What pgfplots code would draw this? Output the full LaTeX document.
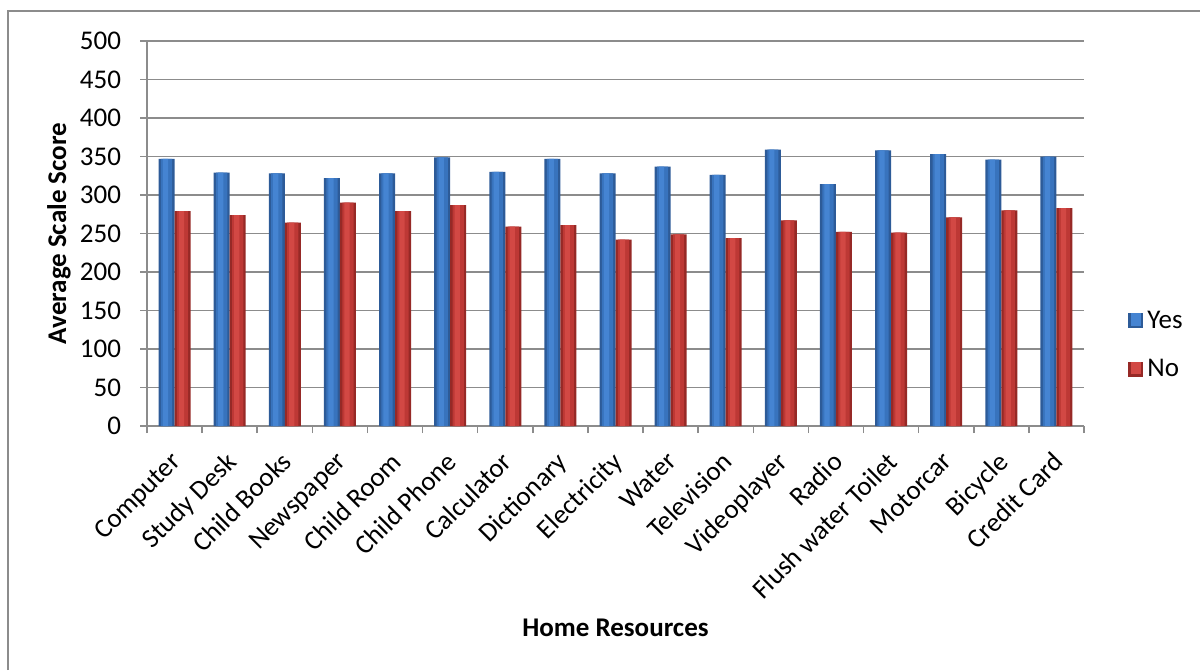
\documentclass[border=0pt]{standalone}
\usepackage{pgfplots}
\pgfplotsset{compat=1.18}
\usepackage{pgfplotstable}
\usepackage{fontspec}
\setmainfont{Carlito}
\definecolor{blueedge}{HTML}{2D5B98}
\definecolor{bluemid}{HTML}{3873BD}
\definecolor{bluelight}{HTML}{4584D2}
\definecolor{rededge}{HTML}{962926}
\definecolor{redmid}{HTML}{BD3835}
\definecolor{redlight}{HTML}{D24844}
\definecolor{gridgray}{HTML}{8C8C8C}
\pgfplotstableread{
x yes no
0 347 279
1 329 274
2 328 264
3 322 290
4 328 279
5 349 287
6 330 259
7 347 261
8 328 242
9 337 249
10 326 244
11 359 267
12 314 252
13 358 251
14 353 271
15 346 280
16 350 283
}\datatable
\begin{document}
\begin{tikzpicture}
\useasboundingbox (0,0) rectangle (600pt,335pt);
\draw[gridgray, line width=0.75pt] (4pt,0pt) -- (4pt,329.5pt) -- (600pt,329.5pt);
\begin{axis}[
  at={(73.5pt,122pt)}, anchor=south west,
  scale only axis, width=468.5pt, height=192.5pt,
  xmin=-0.5, xmax=16.5, ymin=0, ymax=500,
  ytick={0,50,...,500},
  xtick={0,...,16},
  xticklabels={Computer,Study Desk,Child Books,Newspaper,Child Room,Child Phone,Calculator,Dictionary,Electricity,Water,Television,Videoplayer,Radio,Flush water Toilet,Motorcar,Bicycle,Credit Card},
  minor xtick={-0.5,0.5,...,16.5},
  axis x line*=bottom, axis y line*=left,
  axis line style={gridgray, line width=0.75pt, -},
  ymajorgrids, grid style={gridgray, line width=0.75pt},
  tick align=outside,
  major tick length=3.5pt, minor tick length=3.5pt,
  x tick style={draw=none},
  minor x tick style={draw=gridgray, line width=0.75pt},
  y tick style={gridgray, line width=0.75pt},
  /pgf/number format/assume math mode=true,
  tick label style={font=\fontsize{13.5}{15}\selectfont, black},
  yticklabel style={xshift=-6pt},
  xticklabel style={inner sep=0pt, anchor=north east, xshift=-2.5pt, yshift=-8.5pt, rotate=45},
  ylabel={Average Scale Score},
  xlabel={Home Resources},
  label style={font=\bfseries\fontsize{13.5}{15}\selectfont},
  ylabel style={at={(axis description cs:-0.094,0.5)}, anchor=center, rotate=0},
  xlabel style={at={(axis description cs:0.5,-0.525)}, anchor=center},
  ybar, bar width=8pt,
  legend style={draw=none, fill=none, at={(axis description cs:1,0.21)}, anchor=west, xshift=22pt,
    font=\fontsize{13.5}{15}\selectfont, row sep=10pt, inner sep=0pt},
  legend cell align=left,
]
% Yes
\addplot[bar shift=-4pt, bar width=8pt, draw=none, fill=blueedge,
  legend image code/.code={\fill[blueedge] (0pt,-3.75pt) rectangle (7.5pt,3.75pt); \fill[bluelight] (1.2pt,-2.5pt) rectangle (6.3pt,3.75pt);}]
  table[x=x, y=yes] {\datatable};
\addplot[bar shift=-4pt, bar width=5.6pt, draw=none, fill=bluemid, forget plot] table[x=x, y=yes] {\datatable};
\addplot[bar shift=-4.5pt, bar width=2.6pt, draw=none, fill=bluelight, forget plot] table[x=x, y=yes] {\datatable};
% No
\addplot[bar shift=4pt, bar width=8pt, draw=none, fill=rededge,
  legend image code/.code={\fill[rededge] (0pt,-3.75pt) rectangle (7.5pt,3.75pt); \fill[redlight] (1.2pt,-2.5pt) rectangle (6.3pt,3.75pt);}]
  table[x=x, y=no] {\datatable};
\addplot[bar shift=4pt, bar width=5.6pt, draw=none, fill=redmid, forget plot] table[x=x, y=no] {\datatable};
\addplot[bar shift=3.5pt, bar width=2.6pt, draw=none, fill=redlight, forget plot] table[x=x, y=no] {\datatable};
\legend{Yes,No}
\end{axis}
\end{tikzpicture}
\end{document}
